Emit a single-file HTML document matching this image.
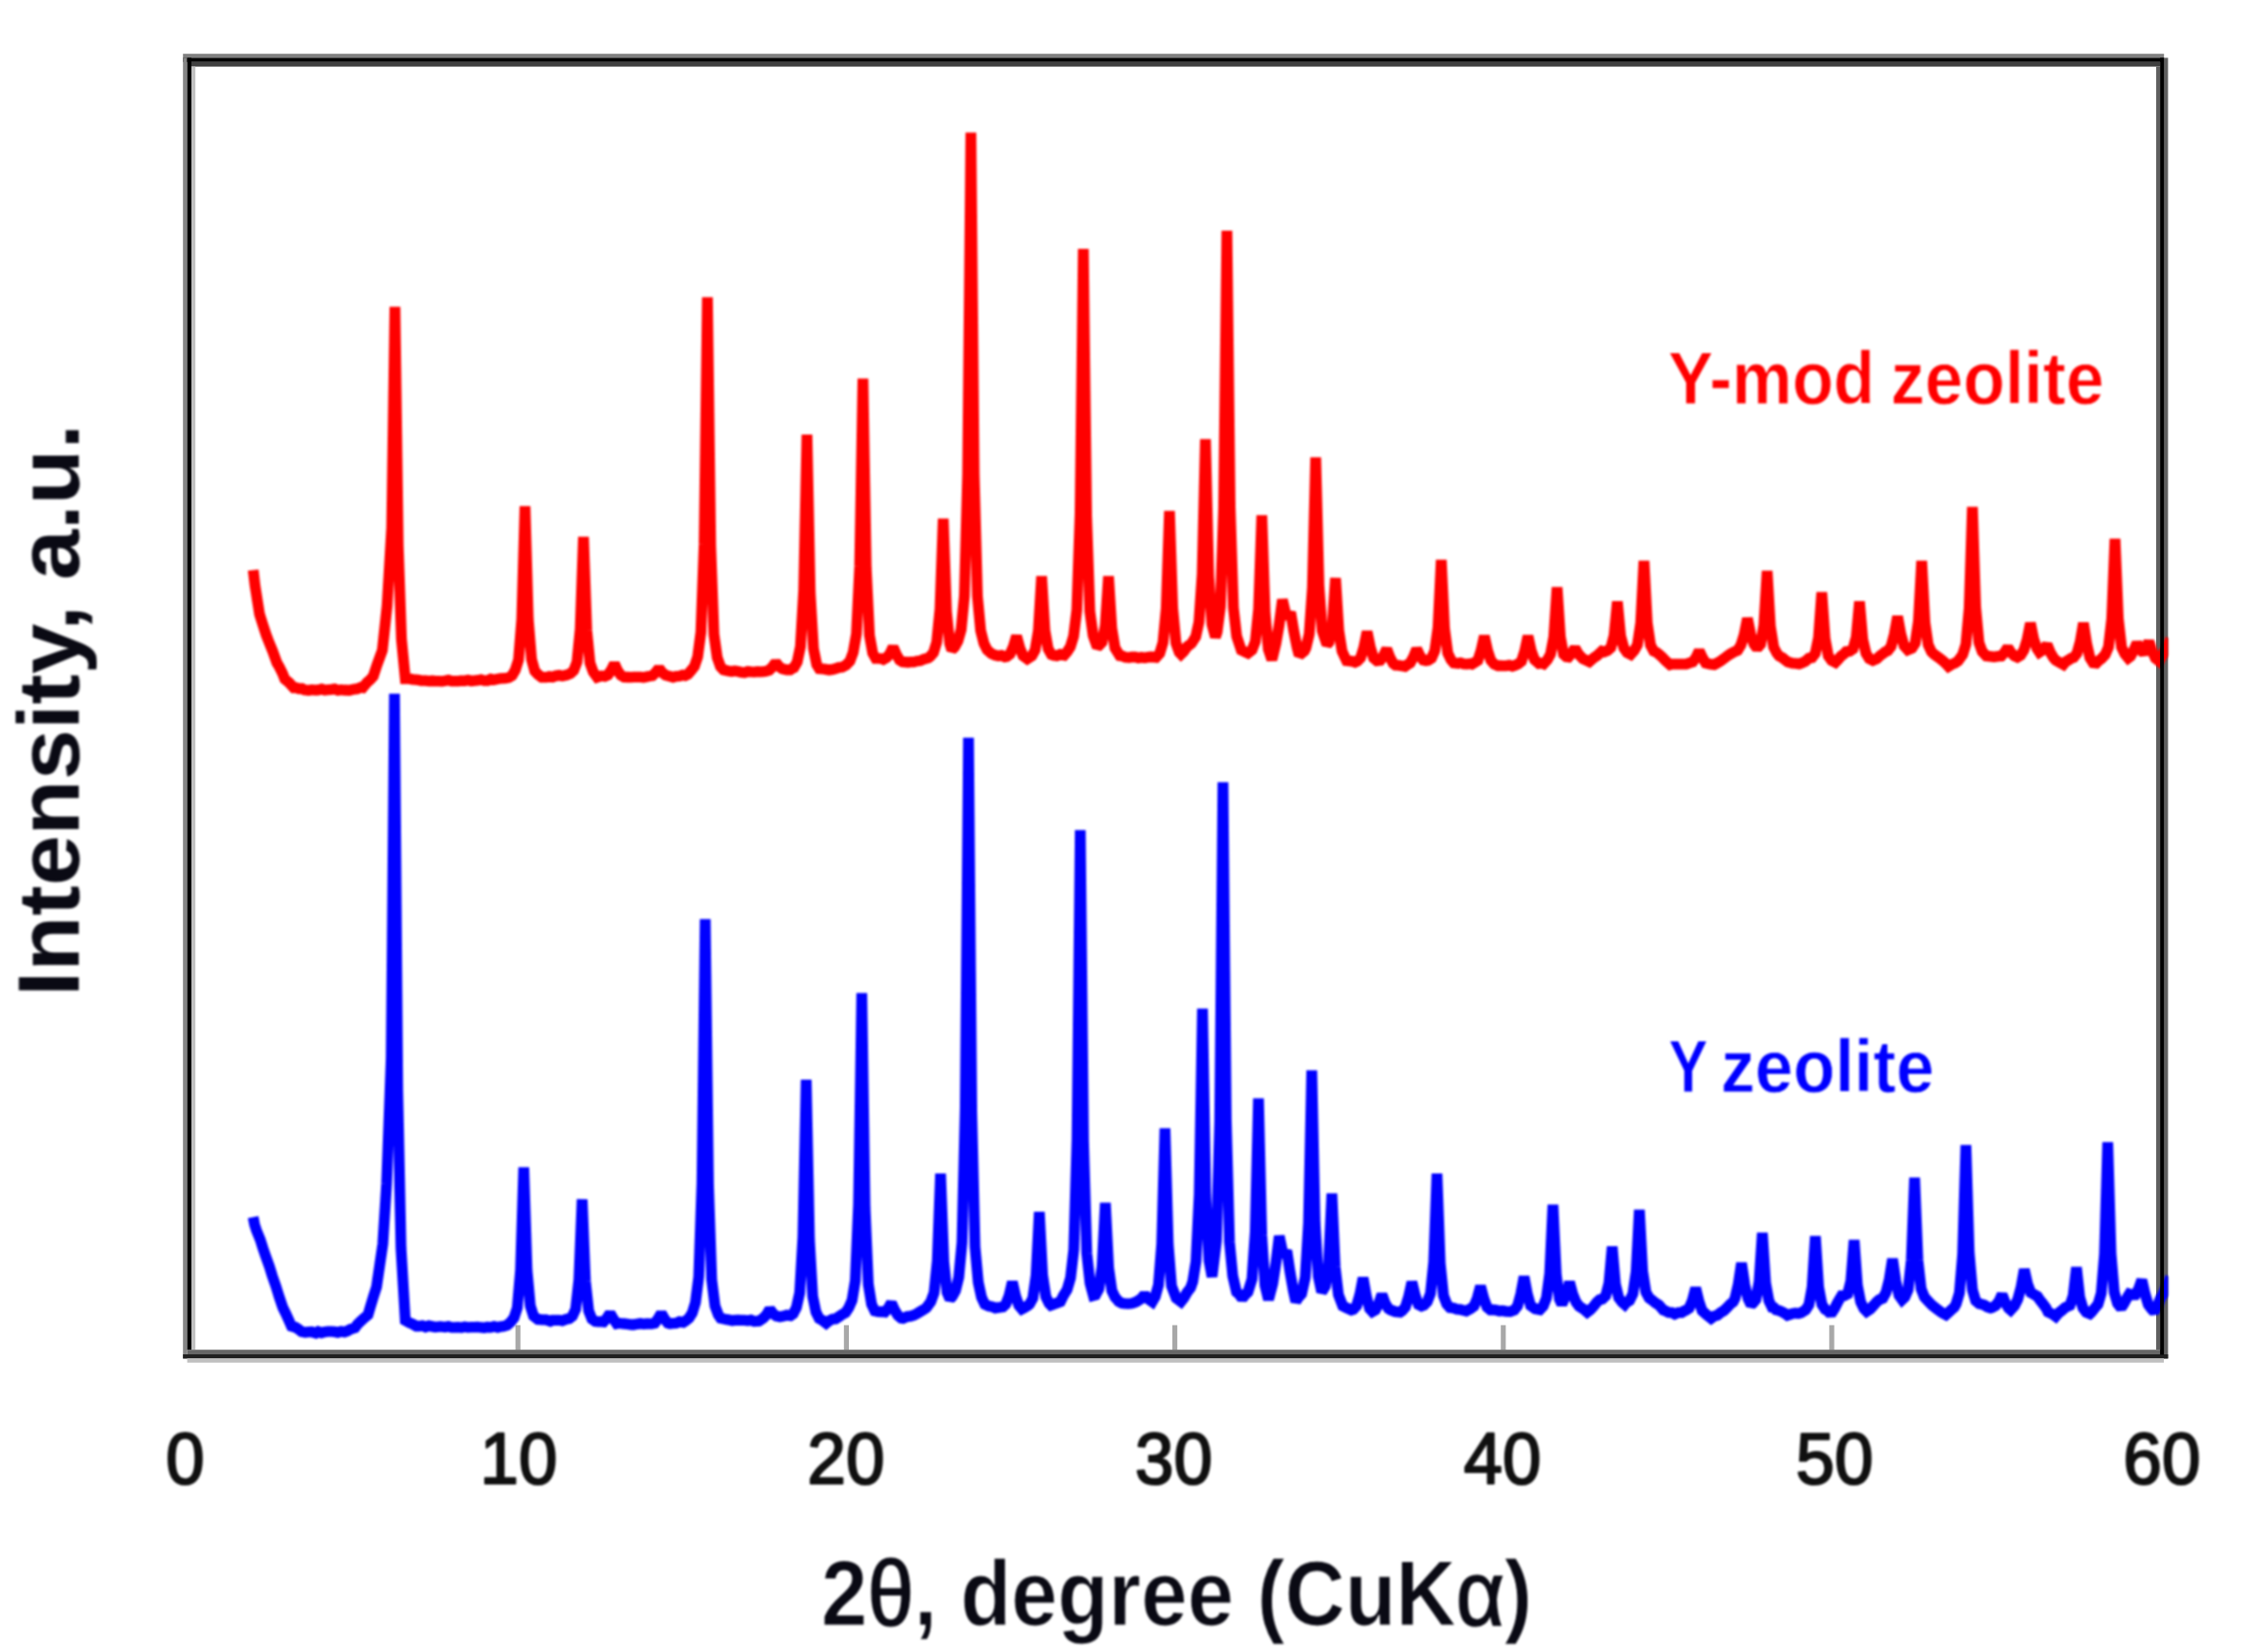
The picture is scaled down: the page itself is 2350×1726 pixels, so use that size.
<!DOCTYPE html>
<html><head><meta charset="utf-8"><title>XRD patterns</title>
<style>
html,body{margin:0;padding:0;background:#fff;}
body{width:2350px;height:1726px;overflow:hidden;}
svg{display:block;}
text{font-family:"Liberation Sans",sans-serif;}
.soft{filter:blur(1.1px);}
</style></head><body>
<svg width="2350" height="1726" viewBox="0 0 2350 1726">
<rect width="2350" height="1726" fill="#fff"/>
<!-- ticks -->
<g fill="#a8a8a8">
<rect x="538.6" y="1384.5" width="5.2" height="26"/><rect x="881.8" y="1384.5" width="5.2" height="26"/><rect x="1225.0" y="1384.5" width="5.2" height="26"/><rect x="1568.2" y="1384.5" width="5.2" height="26"/><rect x="1911.4" y="1384.5" width="5.2" height="26"/>
</g>
<!-- frame -->
<g>
<rect x="191.2" y="56.2" width="2070" height="4.3" fill="#808080"/>
<rect x="191.2" y="60.4" width="2070" height="4.4" fill="#000"/>
<rect x="200" y="64.8" width="2057" height="4.8" fill="#404040"/>
<rect x="191.2" y="60.4" width="4.4" height="1359" fill="#868686"/>
<rect x="195.6" y="60.4" width="4.4" height="1350" fill="#000"/>
<rect x="200" y="69.6" width="4.2" height="1340.6" fill="#c0c0c0"/>
<rect x="2253" y="69.6" width="4.2" height="1340.6" fill="#606060"/>
<rect x="2261" y="60.4" width="4.4" height="1359" fill="#606060"/>
<rect x="195.6" y="1410.2" width="2065.4" height="4.8" fill="#666"/>
<rect x="191.2" y="1415" width="2074.2" height="4.4" fill="#202020"/>
<rect x="195.6" y="1419.4" width="2065.4" height="4.3" fill="#c0c0c0"/>
</g>
<!-- curves -->
<clipPath id="pc"><rect x="200" y="64" width="2065.4" height="1350"/></clipPath>
<g class="soft"><g clip-path="url(#pc)" fill="none" stroke-width="11.3" stroke-linejoin="miter" stroke-miterlimit="1.6" stroke-linecap="butt">
<path d="M264.6 595.6 L266.5 612.1 L271.2 641.8 L274.8 653.1 L278.2 663.5 L280.4 669.3 L285.0 680.6 L289.3 692.5 L291.8 696.7 L295.2 703.5 L297.6 709.6 L302.0 713.2 L306.8 718.5 L308.8 718.4 L312.2 719.5 L315.6 719.5 L318.0 720.8 L322.4 721.2 L325.8 720.6 L330.0 721.0 L332.6 720.9 L336.0 719.9 L339.4 721.0 L342.8 720.7 L346.2 720.3 L349.6 719.8 L353.0 721.2 L356.4 720.6 L359.8 721.0 L365.0 721.2 L370.0 720.0 L373.4 719.7 L376.8 718.2 L379.0 718.5 L383.6 712.9 L387.0 710.0 L390.0 706.6 L393.8 695.0 L397.2 685.7 L399.5 679.5 L404.5 632.7 L409.3 551.3 L412.7 320.7 L416.1 570.1 L419.5 667.9 L423.5 709.2 L427.8 709.2 L431.2 709.9 L434.6 710.2 L438.0 710.5 L440.0 711.1 L444.8 711.1 L448.2 711.6 L451.6 711.3 L455.0 711.7 L458.4 711.6 L461.8 711.8 L465.2 711.3 L468.6 710.5 L472.0 711.6 L475.4 711.7 L478.8 711.6 L482.2 711.1 L485.6 711.3 L489.0 710.5 L492.4 711.5 L495.8 711.1 L500.0 710.7 L502.6 710.1 L506.0 711.1 L509.4 711.1 L512.8 709.4 L516.2 710.3 L519.6 709.5 L523.0 708.8 L528.0 708.7 L531.6 708.0 L535.0 705.9 L538.4 700.1 L541.8 689.5 L545.2 647.0 L548.6 529.0 L552.0 647.3 L555.4 688.8 L558.8 701.1 L562.2 704.7 L566.0 707.6 L570.6 707.6 L574.0 706.7 L577.4 707.4 L580.8 706.1 L584.2 705.6 L587.6 706.3 L592.0 705.3 L596.1 703.7 L599.5 700.6 L602.9 691.7 L606.3 657.3 L609.7 561.0 L613.1 658.5 L616.5 692.8 L619.9 702.1 L624.0 707.6 L628.4 706.2 L632.0 706.7 L635.2 705.3 L638.6 700.3 L642.0 693.5 L645.4 700.8 L648.8 705.5 L652.0 707.4 L655.6 707.5 L659.0 707.6 L662.4 707.4 L665.8 707.3 L669.2 707.3 L672.6 707.8 L676.0 707.0 L678.4 706.5 L681.8 706.0 L685.2 702.6 L688.6 698.0 L692.0 702.7 L695.4 705.3 L700.0 706.7 L703.2 707.6 L706.6 706.6 L710.0 706.5 L713.4 705.4 L716.0 705.9 L718.8 704.4 L722.2 700.5 L725.6 696.3 L729.0 686.3 L732.4 660.2 L735.8 568.4 L739.2 310.6 L742.6 570.1 L746.0 662.7 L749.4 686.9 L752.8 696.4 L756.0 699.8 L761.0 701.0 L764.4 701.6 L767.8 700.9 L770.0 701.3 L774.6 702.3 L778.0 702.7 L781.4 701.6 L784.8 701.9 L788.2 702.1 L791.6 701.7 L795.0 701.8 L798.0 701.7 L800.4 701.2 L803.8 700.3 L807.2 696.8 L810.6 692.0 L814.0 696.4 L817.4 698.8 L822.0 699.8 L825.6 699.8 L828.0 698.2 L829.6 697.5 L833.0 691.7 L836.4 675.4 L839.8 617.3 L843.2 454.0 L846.6 619.1 L850.0 677.6 L853.4 694.4 L856.0 698.6 L859.6 698.8 L863.0 699.4 L866.4 700.1 L870.0 699.4 L873.2 698.6 L876.6 697.4 L880.0 697.0 L884.0 694.9 L888.1 690.7 L891.5 681.6 L894.9 662.3 L898.3 591.9 L901.7 395.5 L905.1 593.3 L908.5 663.7 L911.9 682.4 L915.0 687.9 L917.4 687.9 L920.8 688.1 L923.0 689.0 L926.4 687.1 L929.8 683.1 L933.2 676.0 L936.6 683.8 L940.0 689.6 L943.0 691.5 L948.8 692.0 L951.4 691.6 L954.8 691.7 L958.2 690.7 L961.6 690.3 L965.0 688.8 L970.0 687.4 L972.0 685.8 L975.4 681.9 L978.8 670.9 L982.2 636.6 L985.6 542.0 L989.0 639.0 L992.4 672.6 L994.5 678.9 L997.5 676.0 L1000.9 669.9 L1004.3 657.9 L1007.7 622.6 L1011.1 495.8 L1014.5 138.6 L1017.9 495.7 L1021.3 622.7 L1024.7 658.8 L1028.1 672.2 L1031.5 679.0 L1036.0 682.9 L1039.8 684.5 L1043.2 685.2 L1046.6 684.8 L1050.0 686.4 L1052.0 686.0 L1055.4 683.4 L1058.8 675.8 L1062.2 664.5 L1065.6 676.8 L1069.0 685.1 L1073.4 688.4 L1078.2 685.2 L1081.6 679.2 L1085.0 659.0 L1088.4 602.0 L1091.8 658.7 L1095.2 677.9 L1098.6 683.8 L1101.0 684.7 L1104.4 685.2 L1107.8 683.7 L1112.0 684.6 L1115.0 681.1 L1118.4 675.8 L1121.8 664.7 L1125.2 637.3 L1128.6 537.1 L1132.0 260.0 L1135.4 539.3 L1138.8 638.7 L1142.2 663.9 L1146.5 676.0 L1148.1 674.6 L1151.5 671.1 L1154.9 653.8 L1158.3 602.0 L1161.7 656.5 L1165.1 677.1 L1170.0 685.0 L1172.4 685.3 L1175.8 686.7 L1180.0 687.0 L1182.6 686.5 L1186.0 686.4 L1189.4 687.4 L1192.8 686.8 L1196.2 687.3 L1199.6 686.6 L1203.0 686.3 L1208.0 686.9 L1211.8 682.7 L1215.2 671.5 L1218.6 635.5 L1222.0 534.0 L1225.4 635.6 L1228.8 672.0 L1232.2 681.6 L1234.0 683.5 L1237.0 680.5 L1240.4 675.8 L1245.0 672.2 L1249.4 665.4 L1252.8 649.9 L1256.2 599.8 L1259.6 459.0 L1263.0 602.0 L1266.4 652.2 L1270.0 665.6 L1271.8 660.2 L1275.2 633.7 L1278.6 531.3 L1282.0 241.0 L1285.4 530.4 L1288.8 634.9 L1292.2 664.8 L1297.0 679.2 L1301.6 681.3 L1304.0 682.4 L1308.3 679.1 L1311.7 670.3 L1315.1 636.5 L1318.5 538.4 L1321.9 640.6 L1325.3 678.4 L1329.0 689.3 L1333.2 672.4 L1336.6 652.8 L1340.0 626.6 L1343.4 641.0 L1345.0 646.0 L1348.6 639.8 L1352.0 660.0 L1355.4 676.6 L1357.5 684.7 L1359.4 683.0 L1363.0 680.2 L1364.6 676.9 L1368.0 662.6 L1371.4 613.8 L1374.8 478.0 L1378.2 612.0 L1381.6 658.8 L1386.5 673.4 L1388.7 670.9 L1392.1 655.0 L1395.5 604.0 L1398.9 658.9 L1402.3 680.4 L1407.0 690.3 L1410.4 690.7 L1413.8 691.1 L1416.0 691.9 L1418.3 690.9 L1421.7 687.3 L1425.1 676.3 L1428.5 660.0 L1431.9 676.4 L1435.3 687.5 L1438.7 690.4 L1442.2 690.0 L1445.6 685.1 L1449.0 678.0 L1452.4 687.0 L1455.8 693.3 L1458.0 694.9 L1461.4 695.1 L1464.8 695.7 L1468.0 696.3 L1470.1 694.8 L1473.5 692.7 L1476.9 686.5 L1480.3 678.0 L1483.7 685.2 L1487.1 689.6 L1490.0 690.2 L1492.4 689.8 L1495.8 687.6 L1499.2 680.0 L1502.6 655.6 L1506.0 585.0 L1509.4 656.8 L1512.8 682.4 L1516.2 689.4 L1519.0 692.6 L1522.6 693.1 L1526.0 692.5 L1529.4 693.7 L1532.8 693.9 L1536.2 693.4 L1538.0 693.9 L1540.8 692.2 L1544.2 690.0 L1547.6 679.6 L1551.0 664.5 L1554.4 679.7 L1557.8 690.0 L1561.2 693.9 L1565.0 695.5 L1566.8 695.4 L1570.2 695.7 L1573.6 695.6 L1577.0 695.0 L1580.4 696.0 L1583.0 695.2 L1586.4 693.7 L1589.8 690.9 L1593.2 680.1 L1596.6 664.5 L1600.0 680.0 L1603.4 689.3 L1608.0 693.3 L1611.0 692.8 L1613.0 693.6 L1616.8 689.5 L1620.2 683.4 L1623.6 665.2 L1627.0 613.5 L1630.4 665.2 L1633.8 683.7 L1636.5 686.2 L1638.9 686.5 L1642.3 682.4 L1645.7 677.0 L1649.1 683.1 L1654.0 688.3 L1658.6 690.3 L1660.7 691.3 L1665.4 687.3 L1668.8 685.1 L1673.8 680.3 L1676.4 681.1 L1679.8 679.6 L1683.2 676.7 L1686.6 663.9 L1690.0 628.5 L1693.4 664.6 L1696.8 677.0 L1700.2 681.8 L1703.9 683.7 L1707.6 679.6 L1711.0 673.7 L1714.4 650.8 L1717.8 586.0 L1721.2 650.7 L1724.6 673.9 L1728.0 680.4 L1731.0 681.6 L1733.4 683.5 L1736.8 686.6 L1740.2 690.1 L1745.0 694.4 L1747.0 693.8 L1750.4 693.8 L1753.8 693.8 L1757.2 693.8 L1762.0 693.9 L1765.3 692.7 L1768.7 691.7 L1772.1 687.1 L1775.5 680.0 L1778.9 687.2 L1782.3 692.8 L1787.0 693.9 L1791.2 694.4 L1793.0 693.5 L1798.0 690.6 L1801.4 688.1 L1805.0 685.3 L1808.2 683.2 L1811.6 681.3 L1814.0 680.2 L1815.7 679.5 L1819.1 674.0 L1822.5 663.1 L1825.9 646.0 L1829.3 662.7 L1832.7 672.9 L1836.0 677.4 L1839.7 673.1 L1843.1 653.1 L1846.5 596.6 L1849.9 654.5 L1853.3 676.0 L1856.7 682.5 L1859.0 685.4 L1862.6 687.3 L1866.0 690.1 L1868.0 691.5 L1872.8 692.9 L1876.2 693.1 L1880.0 693.6 L1883.0 692.5 L1886.4 690.9 L1890.0 687.7 L1893.4 687.1 L1896.8 682.6 L1900.2 666.2 L1903.6 619.0 L1907.0 667.2 L1910.4 685.3 L1913.8 690.0 L1917.8 692.0 L1920.4 689.3 L1923.8 685.5 L1927.2 682.8 L1929.0 680.8 L1932.8 680.3 L1936.2 678.0 L1939.6 665.7 L1943.0 628.5 L1946.4 668.0 L1949.8 682.6 L1953.2 688.2 L1957.0 690.0 L1961.2 688.3 L1964.6 685.0 L1968.0 682.6 L1970.0 680.9 L1972.6 679.9 L1976.0 675.4 L1979.4 662.6 L1982.8 644.0 L1986.2 662.6 L1989.6 674.7 L1993.5 679.0 L1997.8 677.3 L2001.2 671.9 L2004.6 649.1 L2008.0 586.0 L2011.4 650.5 L2014.8 673.7 L2018.2 680.9 L2021.0 683.7 L2025.8 687.1 L2029.2 689.7 L2032.6 692.6 L2036.0 696.3 L2039.4 694.2 L2042.8 692.7 L2046.0 690.6 L2050.8 684.0 L2054.2 673.2 L2057.6 635.6 L2061.0 529.8 L2064.4 634.6 L2067.8 671.3 L2071.2 680.7 L2075.5 685.3 L2080.2 685.9 L2083.6 686.3 L2088.0 685.6 L2091.2 685.5 L2094.6 681.6 L2098.0 676.5 L2101.4 681.9 L2104.8 685.2 L2108.0 686.7 L2111.4 684.7 L2114.8 679.1 L2118.2 668.2 L2121.6 651.0 L2125.0 667.6 L2128.4 677.6 L2131.0 681.5 L2135.6 678.4 L2139.0 673.5 L2142.4 681.7 L2145.8 687.4 L2148.0 689.8 L2151.6 691.9 L2156.0 694.3 L2158.4 691.4 L2161.8 689.4 L2164.0 687.9 L2166.8 687.0 L2170.2 682.7 L2173.6 670.6 L2177.0 651.0 L2180.4 672.6 L2183.8 687.3 L2188.5 694.7 L2192.4 690.7 L2196.0 688.1 L2199.8 683.9 L2203.2 676.0 L2206.6 646.5 L2210.0 563.0 L2213.4 646.2 L2216.8 676.2 L2220.2 683.1 L2223.8 687.4 L2226.2 685.6 L2229.6 679.5 L2233.0 671.7 L2236.4 678.6 L2240.0 682.4 L2242.0 679.0 L2245.4 670.0 L2248.8 680.0 L2252.2 687.8 L2256.0 690.8 L2260.4 683.0 L2263.8 676.5 L2268.0 667.7" stroke="#ff0000"/>
<path d="M264.5 1271.7 L266.0 1279.4 L267.9 1285.3 L272.0 1295.3 L274.7 1304.0 L278.1 1313.8 L281.5 1323.4 L284.5 1333.0 L288.3 1343.9 L291.7 1354.9 L295.6 1366.3 L298.5 1372.2 L301.9 1379.6 L304.5 1385.5 L308.7 1386.8 L312.1 1388.9 L315.0 1391.2 L318.9 1392.0 L322.3 1391.6 L325.7 1391.5 L330.0 1392.8 L332.5 1391.2 L335.9 1392.5 L339.3 1391.5 L342.7 1391.2 L346.1 1391.1 L349.5 1391.4 L352.9 1392.1 L356.3 1391.1 L360.0 1391.6 L363.1 1390.5 L366.5 1388.6 L371.0 1387.1 L373.3 1384.0 L376.7 1380.6 L380.1 1377.4 L384.5 1373.8 L386.9 1365.6 L390.3 1354.4 L393.4 1344.7 L397.1 1319.5 L400.0 1299.7 L404.0 1236.5 L408.8 1105.3 L412.2 724.7 L415.6 1139.2 L419.0 1303.7 L423.5 1379.6 L427.7 1381.9 L431.1 1383.3 L435.0 1385.6 L437.9 1385.5 L441.3 1385.0 L444.7 1386.4 L448.1 1385.2 L451.5 1385.9 L454.9 1386.6 L460.0 1385.9 L465.1 1386.5 L468.5 1385.8 L471.9 1386.8 L475.3 1386.9 L478.7 1386.6 L482.1 1387.1 L485.5 1386.2 L488.9 1386.8 L492.3 1386.7 L495.7 1386.6 L499.1 1386.4 L502.5 1387.0 L505.9 1387.2 L509.3 1386.5 L512.7 1386.8 L516.1 1385.8 L520.0 1386.8 L522.9 1386.0 L526.3 1385.7 L530.0 1384.5 L533.7 1381.1 L537.1 1376.7 L540.5 1366.4 L543.9 1327.3 L547.3 1219.7 L550.7 1327.1 L554.1 1364.3 L557.5 1374.9 L562.0 1378.5 L567.1 1378.8 L570.5 1378.9 L575.0 1380.4 L577.3 1379.3 L580.7 1379.3 L584.1 1379.3 L587.5 1379.9 L592.0 1378.3 L594.7 1377.8 L598.1 1375.1 L601.5 1367.8 L604.9 1337.2 L608.3 1253.1 L611.7 1338.5 L615.1 1369.7 L618.5 1378.1 L622.0 1380.6 L624.9 1380.9 L629.0 1380.8 L630.7 1381.0 L634.1 1377.2 L637.5 1372.1 L640.9 1378.0 L644.3 1382.8 L646.0 1382.4 L648.7 1382.7 L652.1 1383.0 L655.5 1383.3 L660.0 1384.0 L662.3 1384.0 L665.7 1383.3 L669.1 1382.8 L672.5 1383.3 L675.9 1383.0 L681.0 1383.1 L684.2 1382.4 L687.6 1377.9 L691.0 1372.1 L694.4 1378.1 L697.8 1382.3 L700.0 1383.0 L703.1 1382.7 L706.5 1382.4 L709.9 1380.9 L714.0 1381.6 L716.5 1380.0 L719.9 1377.2 L723.3 1371.9 L726.7 1360.8 L730.1 1334.1 L733.5 1235.7 L736.9 960.2 L740.3 1238.5 L743.7 1337.1 L747.1 1364.5 L750.5 1373.6 L753.0 1377.3 L757.5 1378.3 L760.9 1378.8 L765.0 1379.7 L767.7 1379.3 L771.1 1379.2 L774.5 1379.4 L777.9 1379.4 L781.3 1379.8 L784.7 1379.2 L788.1 1380.6 L793.0 1380.2 L797.6 1377.2 L801.0 1373.6 L804.4 1367.7 L807.8 1372.5 L811.2 1375.0 L815.0 1375.8 L818.7 1375.1 L822.1 1374.1 L826.0 1374.6 L828.8 1372.6 L832.2 1366.1 L835.6 1350.8 L839.0 1292.4 L842.4 1128.0 L845.8 1295.0 L849.2 1354.3 L852.6 1370.8 L856.0 1377.7 L859.5 1379.5 L863.3 1382.5 L866.3 1380.0 L869.7 1378.2 L873.1 1378.0 L876.5 1375.7 L880.0 1373.4 L883.5 1371.4 L886.9 1366.3 L890.3 1358.6 L893.7 1337.8 L897.1 1258.0 L900.5 1037.7 L903.9 1261.5 L907.3 1341.7 L910.7 1362.6 L914.0 1369.6 L917.3 1370.3 L921.0 1370.5 L924.6 1370.9 L928.0 1367.0 L931.4 1361.2 L934.8 1368.8 L938.2 1374.3 L941.6 1377.2 L943.6 1377.5 L947.9 1375.6 L951.3 1375.2 L954.7 1374.1 L958.0 1372.6 L961.5 1370.4 L964.9 1368.4 L968.0 1366.4 L972.6 1360.0 L976.0 1350.7 L979.4 1317.4 L982.8 1226.1 L986.2 1318.4 L989.6 1350.4 L992.6 1357.2 L995.0 1354.6 L998.4 1348.5 L1001.8 1334.5 L1005.2 1298.1 L1008.6 1159.3 L1012.0 770.7 L1015.4 1161.9 L1018.8 1302.7 L1022.2 1339.8 L1025.6 1355.4 L1029.0 1362.8 L1032.9 1364.5 L1036.3 1365.1 L1040.0 1366.6 L1043.1 1366.2 L1048.0 1365.5 L1051.0 1362.6 L1054.4 1353.7 L1057.8 1339.4 L1061.2 1354.0 L1064.6 1363.8 L1067.8 1367.6 L1070.3 1366.3 L1074.0 1364.0 L1075.8 1362.6 L1079.2 1356.4 L1082.6 1332.2 L1086.0 1266.2 L1089.4 1332.0 L1092.8 1354.7 L1096.2 1361.8 L1098.0 1363.7 L1100.9 1362.6 L1104.3 1361.5 L1108.0 1360.0 L1111.1 1353.7 L1115.0 1347.5 L1118.6 1335.2 L1122.0 1305.7 L1125.4 1190.4 L1128.8 867.4 L1132.2 1192.2 L1135.6 1309.5 L1139.0 1340.6 L1142.5 1353.6 L1144.8 1353.0 L1148.2 1346.8 L1151.6 1323.1 L1155.0 1256.7 L1158.4 1324.5 L1161.8 1348.6 L1165.2 1355.5 L1167.0 1357.4 L1168.9 1359.7 L1172.3 1361.5 L1175.0 1361.9 L1179.1 1362.2 L1182.5 1361.8 L1185.9 1360.7 L1188.0 1359.8 L1192.6 1356.8 L1196.0 1352.5 L1199.4 1356.8 L1204.0 1360.1 L1207.1 1354.7 L1210.5 1342.5 L1213.9 1299.7 L1217.3 1179.0 L1220.7 1299.9 L1224.1 1343.4 L1229.0 1356.2 L1234.0 1360.0 L1236.9 1356.3 L1240.3 1350.4 L1244.0 1345.6 L1246.3 1339.0 L1249.7 1317.9 L1253.1 1248.0 L1256.5 1053.9 L1259.9 1248.9 L1263.3 1317.1 L1266.5 1333.9 L1271.1 1296.4 L1274.5 1171.6 L1277.9 817.3 L1281.3 1170.2 L1284.7 1297.7 L1288.1 1333.0 L1292.0 1349.9 L1294.7 1352.1 L1298.0 1356.7 L1301.5 1352.3 L1304.0 1349.9 L1308.2 1336.5 L1311.6 1287.3 L1315.0 1147.7 L1318.4 1290.5 L1321.8 1343.0 L1325.5 1357.9 L1329.9 1341.0 L1333.3 1318.9 L1336.7 1291.5 L1341.0 1312.0 L1344.6 1306.7 L1348.0 1329.3 L1351.4 1348.5 L1354.0 1360.0 L1355.9 1356.7 L1360.0 1351.9 L1363.9 1334.5 L1367.3 1277.8 L1370.7 1118.4 L1374.1 1277.6 L1377.5 1333.4 L1381.0 1349.9 L1384.9 1343.7 L1388.3 1319.7 L1391.7 1247.0 L1395.1 1323.8 L1398.5 1352.7 L1403.0 1364.4 L1406.9 1366.3 L1412.0 1368.7 L1414.1 1368.0 L1417.5 1364.3 L1420.9 1352.7 L1424.3 1335.1 L1427.7 1354.2 L1431.1 1367.3 L1434.0 1370.4 L1437.2 1368.7 L1440.6 1362.1 L1444.0 1352.5 L1447.4 1361.7 L1450.8 1367.2 L1453.0 1368.6 L1457.9 1370.4 L1463.0 1371.0 L1465.1 1369.5 L1468.5 1365.6 L1471.9 1354.8 L1475.3 1339.4 L1478.7 1353.4 L1482.1 1362.9 L1485.4 1364.6 L1487.9 1363.7 L1491.3 1360.2 L1494.7 1351.5 L1498.1 1318.6 L1501.5 1226.1 L1504.9 1319.8 L1508.3 1353.6 L1511.7 1362.4 L1515.0 1366.1 L1519.1 1366.7 L1522.5 1368.0 L1525.9 1368.2 L1529.3 1369.1 L1532.0 1369.7 L1536.8 1367.1 L1540.2 1364.7 L1543.6 1356.3 L1547.0 1343.7 L1550.4 1356.5 L1553.8 1365.7 L1557.2 1368.5 L1560.0 1368.4 L1563.3 1368.8 L1566.7 1369.7 L1570.1 1369.4 L1573.5 1370.1 L1578.0 1370.3 L1582.3 1368.8 L1585.7 1364.5 L1589.1 1351.9 L1592.5 1333.7 L1595.9 1351.8 L1599.3 1364.1 L1604.0 1367.4 L1609.0 1368.3 L1612.5 1364.7 L1615.9 1356.1 L1619.3 1330.5 L1622.7 1258.7 L1626.1 1331.4 L1629.5 1357.4 L1632.0 1362.7 L1636.6 1352.3 L1640.0 1339.4 L1643.4 1352.3 L1646.8 1360.4 L1650.0 1364.7 L1655.1 1368.0 L1658.5 1371.0 L1661.9 1368.4 L1665.3 1364.7 L1668.7 1360.3 L1671.5 1357.9 L1674.4 1357.2 L1677.8 1353.8 L1681.2 1340.7 L1684.6 1302.4 L1688.0 1341.9 L1691.4 1355.9 L1694.8 1360.4 L1697.7 1362.9 L1699.4 1360.8 L1702.8 1358.8 L1706.2 1351.9 L1709.6 1328.6 L1713.0 1264.0 L1716.4 1328.1 L1719.8 1349.9 L1723.2 1356.1 L1726.0 1358.2 L1729.9 1361.3 L1733.3 1363.4 L1738.0 1368.8 L1740.1 1369.4 L1743.5 1371.2 L1746.9 1371.4 L1750.0 1373.0 L1753.7 1371.4 L1757.1 1371.4 L1760.0 1369.6 L1761.6 1368.9 L1765.0 1366.7 L1768.4 1358.6 L1771.8 1345.7 L1775.2 1359.6 L1778.6 1369.5 L1783.0 1373.5 L1788.0 1377.4 L1791.1 1375.2 L1794.5 1374.2 L1797.9 1371.4 L1801.3 1369.4 L1804.5 1366.3 L1808.1 1362.4 L1811.0 1360.3 L1812.9 1356.6 L1816.3 1342.1 L1819.7 1319.7 L1823.1 1342.2 L1826.5 1356.5 L1829.7 1363.2 L1831.3 1361.9 L1834.7 1357.8 L1838.1 1339.4 L1841.5 1288.0 L1844.9 1340.5 L1848.3 1359.0 L1851.7 1365.9 L1853.7 1366.3 L1855.7 1368.5 L1859.1 1369.4 L1862.5 1370.8 L1865.9 1372.7 L1867.7 1374.1 L1872.7 1372.5 L1876.1 1372.0 L1879.5 1372.3 L1882.0 1371.6 L1886.7 1368.6 L1890.1 1363.4 L1893.5 1344.8 L1896.9 1291.5 L1900.3 1344.7 L1903.7 1362.8 L1907.1 1368.0 L1910.0 1369.7 L1913.0 1373.1 L1916.9 1367.1 L1920.3 1360.4 L1924.3 1353.8 L1927.2 1353.7 L1930.6 1351.9 L1934.0 1338.3 L1937.4 1295.7 L1940.8 1342.8 L1944.2 1360.3 L1947.6 1367.2 L1950.5 1370.2 L1954.3 1367.6 L1957.7 1363.9 L1961.1 1360.0 L1963.6 1358.0 L1967.3 1356.5 L1970.7 1350.3 L1974.1 1336.8 L1977.5 1315.4 L1980.9 1338.1 L1984.3 1353.5 L1987.5 1357.9 L1990.4 1355.1 L1993.8 1347.4 L1997.2 1316.3 L2000.6 1230.5 L2004.0 1316.3 L2007.4 1346.7 L2010.8 1355.2 L2013.7 1358.3 L2018.9 1363.8 L2024.0 1367.7 L2029.1 1371.5 L2033.3 1373.7 L2035.9 1371.4 L2039.3 1368.1 L2042.0 1365.8 L2044.0 1362.2 L2047.4 1350.9 L2050.8 1310.5 L2054.2 1196.5 L2057.6 1308.6 L2061.0 1347.6 L2064.4 1359.1 L2068.0 1362.1 L2069.9 1362.5 L2073.3 1363.4 L2076.7 1365.6 L2080.0 1366.6 L2081.8 1366.1 L2085.2 1364.1 L2088.6 1359.8 L2092.0 1352.5 L2095.4 1361.3 L2098.8 1366.9 L2100.9 1368.7 L2105.0 1364.2 L2108.4 1357.5 L2111.8 1344.9 L2115.2 1326.3 L2118.6 1341.5 L2122.0 1350.5 L2124.0 1351.6 L2129.0 1354.5 L2131.1 1357.6 L2134.5 1362.0 L2137.9 1366.5 L2140.0 1370.7 L2144.7 1373.0 L2148.0 1375.4 L2151.5 1371.4 L2154.9 1368.8 L2158.0 1366.0 L2162.9 1363.9 L2166.3 1353.9 L2169.7 1324.2 L2173.1 1355.4 L2176.5 1366.7 L2179.9 1371.1 L2183.7 1372.6 L2185.5 1370.9 L2190.0 1365.3 L2192.2 1362.8 L2195.6 1351.1 L2199.0 1310.2 L2202.4 1193.4 L2205.8 1309.4 L2209.2 1350.2 L2212.6 1361.9 L2216.4 1366.6 L2219.5 1361.6 L2222.9 1355.4 L2225.0 1352.0 L2227.8 1352.9 L2231.2 1352.7 L2234.6 1346.9 L2238.0 1337.2 L2241.4 1352.0 L2244.8 1363.1 L2248.2 1367.7 L2251.0 1370.7 L2253.5 1366.5 L2256.9 1357.9 L2260.3 1351.7 L2263.7 1344.3 L2268.0 1334.3" stroke="#0000ff"/>
</g></g>
<rect x="2257.1" y="60.4" width="4" height="1355" fill="#000"/>
<g class="soft">
<!-- tick labels -->
<g font-size="76.5" font-weight="400" fill="#101010" stroke="#101010" stroke-width="2.2" stroke-linejoin="round" text-anchor="middle">
<text x="193.5" y="1550" transform="translate(193.5 0) scale(0.95 1) translate(-193.5 0)">0</text><text x="542" y="1550" transform="translate(542 0) scale(0.95 1) translate(-542 0)">10</text><text x="884" y="1550" transform="translate(884 0) scale(0.95 1) translate(-884 0)">20</text><text x="1226.5" y="1550" transform="translate(1226.5 0) scale(0.95 1) translate(-1226.5 0)">30</text><text x="1570" y="1550" transform="translate(1570 0) scale(0.95 1) translate(-1570 0)">40</text><text x="1917" y="1550" transform="translate(1917 0) scale(0.95 1) translate(-1917 0)">50</text><text x="2259" y="1550" transform="translate(2259 0) scale(0.95 1) translate(-2259 0)">60</text>
</g>
<!-- series labels -->
<g font-size="77" font-weight="700" fill="#ff0000" stroke="#fff" stroke-width="0.9">
<text y="422"><tspan x="1743" textLength="216" lengthAdjust="spacingAndGlyphs">Y-mod</tspan> <tspan x="1975.5" textLength="223" lengthAdjust="spacingAndGlyphs">zeolite</tspan></text>
</g>
<g font-size="77" font-weight="700" fill="#0000ff" stroke="#fff" stroke-width="0.9">
<text y="1141"><tspan x="1743.5" textLength="40" lengthAdjust="spacingAndGlyphs">Y</tspan> <tspan x="1798" textLength="223" lengthAdjust="spacingAndGlyphs">zeolite</tspan></text>
</g>
<!-- axis titles -->
<text x="858" y="1698" font-size="97" font-weight="700" fill="#0a0a14" stroke="#fff" stroke-width="1.2" textLength="743" lengthAdjust="spacingAndGlyphs">2<tspan font-weight="400" stroke="#0a0a14" stroke-width="1.6">θ</tspan>, degree (CuK<tspan font-weight="400" stroke="#0a0a14" stroke-width="1.6">α</tspan>)</text>
<text transform="translate(82.3 1041) rotate(-90)" font-size="91" font-weight="700" fill="#0a0a14" textLength="598" lengthAdjust="spacingAndGlyphs">Intensity, a.u.</text>
</g>
</svg>
</body></html>
